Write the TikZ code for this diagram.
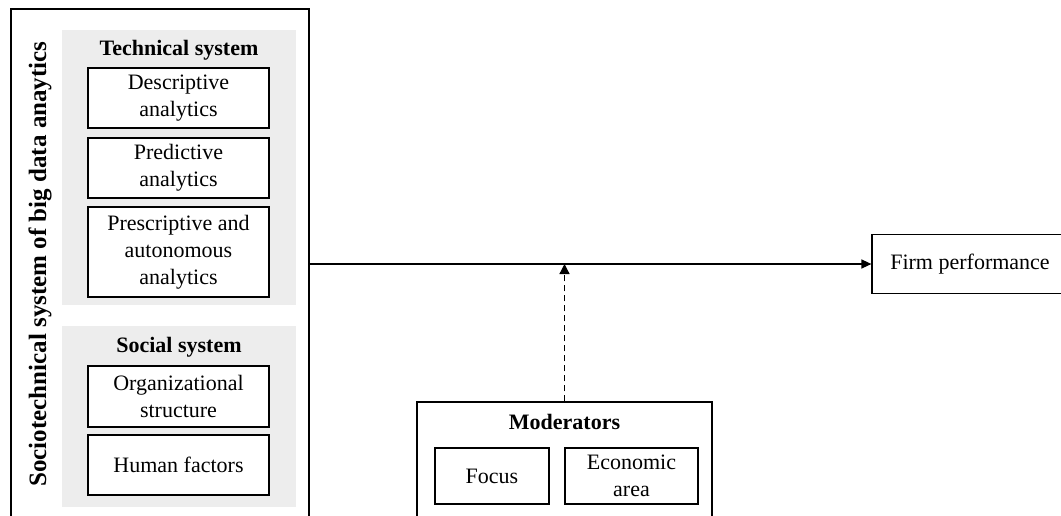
\documentclass[tikz,border=0pt]{standalone}
\usepackage{fontspec}
\setmainfont{Liberation Serif}
\usetikzlibrary{arrows.meta,positioning,calc}

\tikzset{
  every node/.style={font=\fontsize{22}{27}\selectfont},
  frame/.style={draw, line width=1.4pt, inner sep=0pt},
  panel/.style={fill=black!7, inner sep=0pt, minimum width=234pt},
  item/.style={draw, fill=white, line width=1.2pt, align=center, minimum width=181pt, inner sep=0pt},
  modbox/.style={draw, fill=white, line width=1.2pt, align=center, minimum height=56pt, inner sep=0pt},
  heading/.style={font=\fontsize{22}{27}\selectfont\bfseries},
  link/.style={line width=1.4pt, -{Triangle[length=10pt,width=9pt]}},
  effect/.style={line width=1.3pt, dash pattern=on 6pt off 4pt, -{Triangle[length=10pt,width=10pt]}}
}

\begin{document}
\begin{tikzpicture}[x=1pt,y=-1pt]
  \useasboundingbox (0,0) rectangle (1061,515);
  \clip (0,0) rectangle (1061,515);

  % sociotechnical system
  \node[frame, minimum width=298pt, minimum height=510pt] (socio) at (160,264) {};
  \node[rotate=90, font=\fontsize{25}{30}\selectfont\bfseries] (sociolabel) at (40,264)
    {Sociotechnical system of big data anaytics};

  \node[panel, minimum height=275pt] (tech) at (179,167.5) {};
  \node[heading] (techtitle) at (179,50) {Technical system};
  \node[item, minimum height=60pt] (desc) at (178.5,98) {Descriptive\\analytics};
  \node[item, minimum height=60pt] (pred) at (178.5,168) {Predictive\\analytics};
  \node[item, minimum height=90pt] (presc) at (178.5,252) {Prescriptive and\\autonomous\\analytics};

  \node[panel, minimum height=181pt] (social) at (179,416.5) {};
  \node[heading] (socialtitle) at (179,347) {Social system};
  \node[item, minimum height=61pt] (org) at (178.5,396.5) {Organizational\\structure};
  \node[item, minimum height=60pt] (human) at (178.5,465) {Human factors};

  % outcome
  \node[frame, line width=1.2pt, minimum width=196pt, minimum height=59pt] (firm) at (970,264) {Firm performance};

  % moderators
  \node[frame, line width=1.2pt, minimum width=295pt, minimum height=128pt] (mod) at (564.5,466) {};
  \node[heading] (modtitle) at (564.5,422) {Moderators};
  \node[modbox, minimum width=114pt] (focus) at (492,476) {Focus};
  \node[modbox, minimum width=133pt] (econ) at (631.5,476) {Economic\\area};

  \draw[link] (socio.east) -- (firm.west);
  \draw[effect] (mod.north) -- (mod.north |- firm.west);
\end{tikzpicture}
\end{document}
